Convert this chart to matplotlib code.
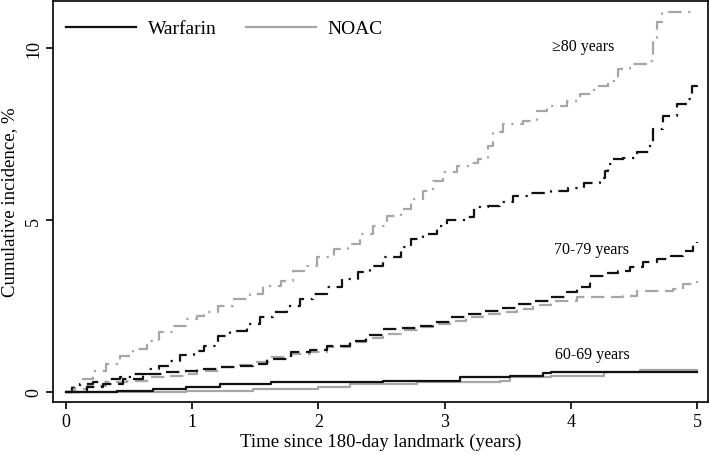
import numpy as np
import matplotlib
matplotlib.use('Agg')
import matplotlib.pyplot as plt
from matplotlib.lines import Line2D

plt.rcParams['font.family'] = ['Liberation Serif', 'DejaVu Serif']

# step curves: (time in years, cumulative incidence %)
noac_80 = [(0, 0), (0.05, 0.15), (0.11, 0.38), (0.21, 0.61), (0.32, 0.81), (0.43, 1.05),
           (0.53, 1.25), (0.64, 1.48), (0.74, 1.74), (0.85, 1.92), (0.96, 2.12), (1.04, 2.21),
           (1.09, 2.33), (1.20, 2.5), (1.32, 2.70), (1.46, 2.85), (1.56, 3.08), (1.70, 3.23),
           (1.80, 3.52), (1.91, 3.66), (1.99, 3.92), (2.12, 4.16), (2.23, 4.30), (2.33, 4.59),
           (2.43, 4.83), (2.54, 5.12), (2.65, 5.32), (2.73, 5.61), (2.83, 5.84), (2.91, 6.13),
           (2.99, 6.40), (3.10, 6.57), (3.19, 6.65), (3.26, 6.77), (3.34, 7.15), (3.38, 7.56),
           (3.46, 7.79), (3.62, 7.88), (3.73, 8.17), (3.81, 8.31), (3.97, 8.46), (4.07, 8.66),
           (4.18, 8.9), (4.29, 9.04), (4.37, 9.39), (4.47, 9.53), (4.60, 9.62), (4.65, 10.2),
           (4.68, 10.76), (4.72, 11.05), (5.0, 11.05)]

warf_80 = [(0, 0), (0.05, 0.12), (0.11, 0.23), (0.21, 0.29), (0.32, 0.38), (0.43, 0.44),
           (0.53, 0.52), (0.64, 0.67), (0.74, 0.76), (0.82, 0.9), (0.90, 1.08), (1.01, 1.19),
           (1.09, 1.34), (1.20, 1.63), (1.30, 1.77), (1.43, 1.98), (1.54, 2.18), (1.64, 2.33),
           (1.75, 2.50), (1.85, 2.70), (1.96, 2.85), (2.07, 3.05), (2.19, 3.28), (2.31, 3.49),
           (2.41, 3.66), (2.51, 3.92), (2.65, 4.22), (2.73, 4.45), (2.83, 4.59), (2.94, 4.83),
           (3.02, 5.0), (3.18, 5.09), (3.23, 5.38), (3.34, 5.41), (3.44, 5.52), (3.54, 5.70),
           (3.68, 5.78), (3.84, 5.84), (3.98, 5.93), (4.10, 6.08), (4.23, 6.22), (4.27, 6.42),
           (4.29, 6.63), (4.33, 6.77), (4.41, 6.80), (4.52, 6.98), (4.63, 7.27), (4.65, 7.65),
           (4.73, 8.02), (4.84, 8.37), (4.93, 8.52), (4.96, 8.9), (5.0, 9.01)]

noac_70 = [(0, 0), (0.06, 0.09), (0.17, 0.17), (0.32, 0.29), (0.48, 0.32), (0.64, 0.44),
           (0.80, 0.47), (0.96, 0.52), (1.04, 0.61), (1.22, 0.73), (1.35, 0.80), (1.48, 0.87),
           (1.62, 1.02), (1.78, 1.10), (1.93, 1.16), (2.07, 1.30), (2.25, 1.45), (2.38, 1.57),
           (2.51, 1.69), (2.65, 1.79), (2.78, 1.89), (2.91, 1.97), (3.04, 2.06), (3.17, 2.17),
           (3.30, 2.27), (3.44, 2.34), (3.57, 2.41), (3.70, 2.53), (3.84, 2.65), (4.05, 2.76),
           (4.41, 2.79), (4.52, 2.94), (4.81, 2.99), (4.89, 3.14), (5.0, 3.23)]

warf_70 = [(0, 0), (0.17, 0.14), (0.29, 0.23), (0.45, 0.38), (0.61, 0.52), (0.77, 0.58),
           (0.93, 0.61), (1.04, 0.67), (1.22, 0.72), (1.35, 0.76), (1.48, 0.81), (1.59, 0.96),
           (1.78, 1.16), (1.93, 1.22), (2.07, 1.34), (2.25, 1.48), (2.38, 1.65), (2.51, 1.83),
           (2.65, 1.87), (2.78, 1.92), (2.91, 2.05), (3.04, 2.18), (3.17, 2.27), (3.30, 2.35),
           (3.44, 2.45), (3.57, 2.56), (3.70, 2.66), (3.84, 2.76), (3.97, 2.91), (4.05, 3.05),
           (4.15, 3.37), (4.26, 3.45), (4.37, 3.52), (4.47, 3.65), (4.57, 3.78), (4.68, 3.86),
           (4.79, 3.95), (4.89, 4.1), (4.97, 4.3), (5.0, 4.35)]

warf_60 = [(0, 0), (0.4, 0.03), (0.69, 0.09), (0.95, 0.14), (1.22, 0.23), (1.62, 0.29),
           (2.51, 0.32), (3.12, 0.44), (3.52, 0.47), (3.78, 0.55), (3.84, 0.58), (5.0, 0.58)]

noac_60 = [(0, 0), (0.4, 0.01), (0.95, 0.03), (1.48, 0.09), (2.0, 0.15), (2.25, 0.23),
           (2.78, 0.29), (3.44, 0.32), (3.52, 0.44), (3.84, 0.47), (4.26, 0.58), (4.55, 0.64),
           (5.0, 0.64)]

group_labels = ['\u226580 years', '70-79 years', '60-69 years']

black = '#111111'
gray = '#a6a6a6'
dashdot = (0, (6, 3, 1, 3))
dashed = (0, (6, 3))

fig = plt.figure(figsize=(7.09, 4.56), dpi=100)
ax = fig.add_axes([0.0748, 0.1162, 0.924, 0.8794])

curves = [(noac_80, gray, dashdot), (warf_80, black, dashdot),
          (noac_70, gray, dashed), (warf_70, black, dashed),
          (noac_60, gray, '-'), (warf_60, black, '-')]
for pts, col, ls in curves:
    t, y = zip(*pts)
    ax.plot(t, y, drawstyle='steps-post', color=col, lw=1.6, linestyle=ls)

ax.text(4.10, 10.06, group_labels[0], fontsize=11.5, ha='center', va='center')
ax.text(4.16, 4.15, group_labels[1], fontsize=11.5, ha='center', va='center')
ax.text(4.17, 1.12, group_labels[2], fontsize=11.5, ha='center', va='center')

ax.set_xlim(-0.103, 5.087)
ax.set_ylim(-0.29, 11.37)
ax.set_xticks([0, 1, 2, 3, 4, 5])
ax.set_yticks([0, 5, 10])
ax.tick_params(axis='both', labelsize=13, length=5, width=1.2, direction='out', pad=3)
plt.setp(ax.get_yticklabels(), rotation=90, va='center')
for s in ax.spines.values():
    s.set_linewidth(1.2)
ax.set_xlabel('Time since 180-day landmark (years)', fontsize=13.5, labelpad=2)
ax.set_ylabel('Cumulative incidence, %', fontsize=13.5, labelpad=5)

handles = [Line2D([], [], color=black, lw=1.6), Line2D([], [], color=gray, lw=1.6)]
ax.legend(handles, ['Warfarin', 'NOAC'], loc='upper left', ncol=2, frameon=False,
          fontsize=14, handlelength=3.6, columnspacing=1.5, handletextpad=0.6,
          bbox_to_anchor=(0.0198, 0.953), borderaxespad=0, borderpad=0)

fig.savefig('out.png', dpi=100)
